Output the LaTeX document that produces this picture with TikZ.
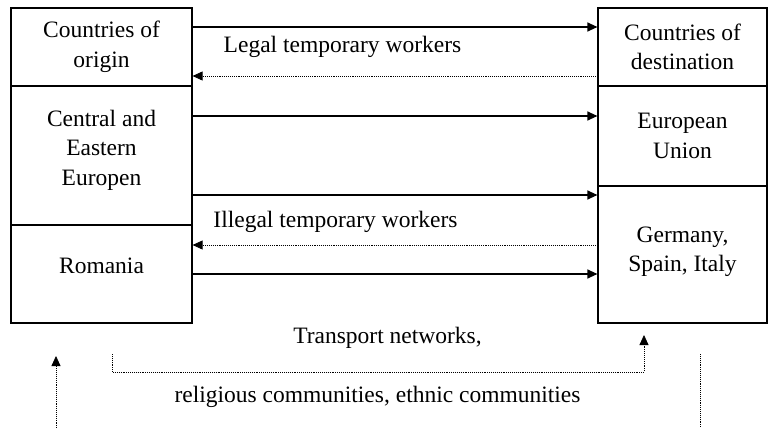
\documentclass[tikz,border=0pt]{standalone}
\usepackage{fontspec}
\setmainfont{Liberation Serif}
\usetikzlibrary{arrows.meta}
\begin{document}
\begin{tikzpicture}[x=1pt,y=-1pt,
  box/.style={draw,line width=1.2pt,rectangle,inner sep=0pt},
  txt/.style={inner sep=0pt,align=center,font=\fontsize{23.5}{29.5}\selectfont},
  solidarrow/.style={line width=1.2pt,-{Triangle[length=10pt,width=9pt]}},
  dotarrow/.style={line width=0.8pt,dash pattern=on 0.8pt off 1.1pt,-{Triangle[length=10pt,width=9pt]}},
  dotline/.style={line width=0.8pt,dash pattern=on 0.8pt off 1.1pt}]
\useasboundingbox (0,0) rectangle (769,428);
% left column
\node[box,minimum width=181pt,minimum height=78pt] (lo1) at (101.5,47) {};
\node[box,minimum width=181pt,minimum height=139pt] (lo2) at (101.5,155.5) {};
\node[box,minimum width=181pt,minimum height=98pt] (lo3) at (101.5,274) {};
% right column
\node[box,minimum width=169pt,minimum height=78pt] (rd1) at (682.5,47) {};
\node[box,minimum width=169pt,minimum height=100pt] (rd2) at (682.5,136) {};
\node[box,minimum width=169pt,minimum height=137pt] (rd3) at (682.5,254.5) {};
% texts
\node[txt] (tlo1) at (101.5,47) {Countries of\\origin};
\node[txt] (tlo2) at (101.5,150) {Central and\\Eastern\\Europen};
\node[txt] (tlo3) at (101.5,266) {Romania};
\node[txt] (trd1) at (682.5,47) {Countries of\\destination};
\node[txt] (trd2) at (682.5,136) {European\\Union};
\node[txt] (trd3) at (682.5,252) {Germany,\\Spain, Italy};
\node[txt] (legal) at (342.5,46.5) {Legal temporary workers};
\node[txt] (illegal) at (335.5,222) {Illegal temporary workers};
\node[txt] (transport) at (387.5,338) {Transport networks,};
\node[txt] (relig) at (377.5,397) {religious communities, ethnic communities};
% arrow levels
\coordinate (y1) at (0,27);
\coordinate (y2) at (0,76);
\coordinate (y3) at (0,116);
\coordinate (y4) at (0,195);
\coordinate (y5) at (0,245);
\coordinate (y6) at (0,274);
\draw[solidarrow] (lo1.east |- y1) -- (rd1.west |- y1);
\draw[dotarrow] (rd1.west |- y2) -- (lo1.east |- y2);
\draw[solidarrow] (lo2.east |- y3) -- (rd2.west |- y3);
\draw[solidarrow] (lo2.east |- y4) -- (rd3.west |- y4);
\draw[dotarrow] (rd3.west |- y5) -- (lo3.east |- y5);
\draw[solidarrow] (lo3.east |- y6) -- (rd3.west |- y6);
% bottom dotted connectors
\coordinate (p1) at (112,354);
\coordinate (pc) at (644,372);
\coordinate (t1) at (644,335);
\draw[dotarrow] (p1) |- (pc) -- (t1);
\coordinate (lb) at (56,428);
\coordinate (lt) at (56,356);
\draw[dotarrow] (lb) -- (lt);
\coordinate (rt) at (700,354);
\coordinate (rb) at (700,428);
\draw[dotline] (rt) -- (rb);
\end{tikzpicture}
\end{document}
